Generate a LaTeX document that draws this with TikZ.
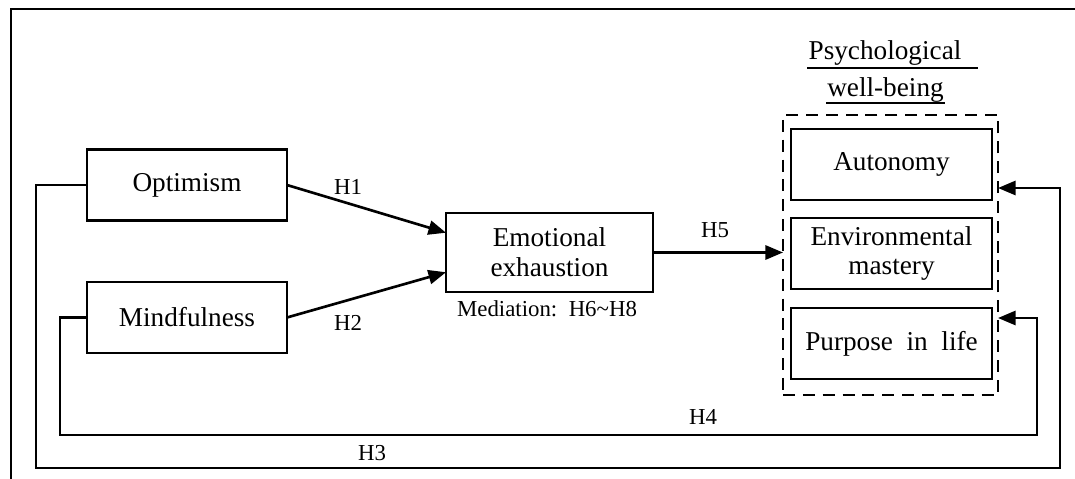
\documentclass[tikz,border=0pt]{standalone}
\usepackage{fontspec}
\setmainfont{Liberation Serif}
\usetikzlibrary{calc,arrows.meta,positioning}

\begin{document}
\begin{tikzpicture}[x=0.02cm,y=-0.02cm]

\useasboundingbox (0,0) rectangle (1075,479);

\tikzstyle{box}=[draw,line width=1.5pt,minimum width=4cm,minimum height=1.42cm,inner sep=0pt,outer sep=0pt,align=center,font=\fontsize{15.5}{17}\selectfont]
\tikzstyle{hyp}=[font=\fontsize{13}{15}\selectfont,inner sep=0pt,outer sep=0pt]
\tikzstyle{arr}=[line width=1.5pt,-{Triangle[length=10pt,width=8pt]}]

% frame
\draw [line width=1.5pt] (11,479) -- (11,9) -- (1075,9);

\node (opt) [box] at (187,185) {Optimism};
\node (mind) [box] at (187,317.5) {Mindfulness};

\node (emo) [box,minimum width=4.14cm,minimum height=1.58cm] at (549.5,252.5) {Emotional\\exhaustion};
\node (med) [hyp,anchor=base] at (547,317) {Mediation:\ \ H6\textasciitilde H8};

% psychological well-being
\node (pwb) [draw,line width=1.5pt,dash pattern=on 6.8pt off 4.5pt,minimum width=4.3cm,minimum height=5.6cm,outer sep=0pt] at (890.5,255) {};
\node (aut) [box,minimum width=4.02cm] at (891.5,164.5) {Autonomy};
\node (env) [box,minimum width=4.02cm] at (891.5,253.5) {Environmental\\mastery};
\node (pur) [box,minimum width=4.02cm] at (891.5,343.5) {Purpose\ \ in\ \ life};

\node (tt1) [anchor=base,inner sep=0pt,font=\fontsize{15.5}{17}\selectfont] at (885,60) {Psychological};
\node (tt2) [anchor=base,inner sep=0pt,font=\fontsize{15.5}{17}\selectfont] at (885.5,97) {well-being};
\draw [line width=1.5pt] (807,68) -- (978,68);
\draw [line width=1.5pt] (826,103) -- (945,103);

% paths
\draw [arr] (opt.east) -- ($(emo.north west)!0.25!(emo.south west)$);
\draw [arr] (mind.east) -- ($(emo.north west)!0.75!(emo.south west)$);
\draw [arr] (emo.east) -- (emo.east -| pwb.west);
\draw [arr] (opt.west) -- ++(-51,0) |- (1060,468) |- (pwb.east |- 0,188);
\draw [arr] (mind.west) -- ++(-27,0) |- (1037,435) |- (pwb.east |- 0,318);

\node [hyp] at (348,187) {H1};
\node [hyp] at (348,323) {H2};
\node [hyp] at (372,453) {H3};
\node [hyp] at (703,417) {H4};
\node [hyp] at (715,230) {H5};

\end{tikzpicture}
\end{document}
